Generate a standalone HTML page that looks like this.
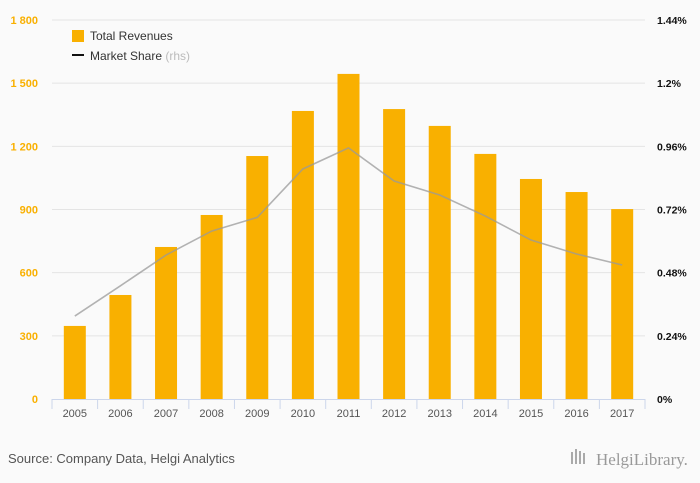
<!DOCTYPE html>
<html><head><meta charset="utf-8"><style>
html,body{margin:0;padding:0;background:#fafafa;}
svg{display:block;font-family:"Liberation Sans",sans-serif;}
</style></head><body>
<svg id="chart" width="700" height="483">
<rect width="700" height="483" fill="#fafafa"/>
<g id="grid"></g><g id="bars"></g><g id="line"></g><g id="axes"></g>
<g>
<rect x="72" y="30" width="12" height="12" fill="#f9b000"/>
<text x="90" y="40" font-size="12" fill="#333">Total Revenues</text>
<rect x="72" y="54" width="12" height="2" fill="#111"/>
<text x="90" y="60" font-size="12" fill="#333">Market Share <tspan fill="#bbb">(rhs)</tspan></text>
</g>
<text x="8" y="463" font-size="13" fill="#555">Source: Company Data, Helgi Analytics</text>
<g>
<rect x="571" y="452" width="2" height="12" fill="#aaa"/><rect x="575" y="449" width="2" height="15" fill="#aaa"/><rect x="579" y="451" width="2" height="13" fill="#aaa"/><rect x="583" y="453" width="2" height="11" fill="#aaa"/>
<text x="596" y="465" font-size="17" fill="#999" font-family="Liberation Serif,serif">HelgiLibrary.</text>
</g>
</svg>
<script>
const categories=["2005","2006","2007","2008","2009","2010","2011","2012","2013","2014","2015","2016","2017"];
const revenues=[347,494,722,874,1154,1368,1544,1377,1297,1164,1045,983,902];
const marketShare=[0.315,0.43,0.547,0.638,0.69,0.874,0.954,0.828,0.775,0.695,0.604,0.551,0.509];
const leftTicks=[0,300,600,900,1200,1500,1800];
const leftTickLabels=["0","300","600","900","1 200","1 500","1 800"];
const rightTicks=[0,0.24,0.48,0.72,0.96,1.2,1.44];
const rightTickLabels=["0%","0.24%","0.48%","0.72%","0.96%","1.2%","1.44%"];
const NS="http://www.w3.org/2000/svg";
const X0=52,X1=645,Y0=399,Y1=20;
const step=(X1-X0)/categories.length;
const xC=i=>X0+step*(i+0.5);
const yL=v=>Y0-(v/1800)*(Y0-Y1);
const yR=v=>Y0-(v/1.44)*(Y0-Y1);
function mk(tag,attrs,parent){const e=document.createElementNS(NS,tag);for(const k in attrs)e.setAttribute(k,attrs[k]);parent.appendChild(e);return e;}
const grid=document.getElementById('grid'),bars=document.getElementById('bars'),line=document.getElementById('line'),axes=document.getElementById('axes');
leftTicks.forEach((t,i)=>{
  const y=yL(t);
  if(i>0){const g=mk('line',{x1:X0,x2:X1,y1:y,y2:y,stroke:'#e4e4e4','stroke-width':1},grid);
  
  }
  const tx=mk('text',{x:38,y:y+4,'font-size':11,fill:'#f9b000','text-anchor':'end','font-weight':'bold'},axes);tx.textContent=leftTickLabels[i];
  
  
});
rightTicks.forEach((t,i)=>{
  const tx=mk('text',{x:657,y:yR(t)+4,'font-size':10.5,fill:'#111','font-weight':'bold'},axes);tx.textContent=rightTickLabels[i];
  
  
});
const ax=mk('line',{x1:X0,x2:X1,y1:Y0+0.5,y2:Y0+0.5,stroke:'#ccd6eb'},axes);


for(let i=0;i<=categories.length;i++){
  const x=X0+step*i;
  const tk=mk('line',{x1:x,x2:x,y1:Y0,y2:Y0+10,stroke:'#ccd6eb'},axes);
  
  
}
categories.forEach((c,i)=>{
  const b=mk('rect',{x:xC(i)-11,y:yL(revenues[i]),width:22,height:Y0-yL(revenues[i]),fill:'#f9b000'},bars);
  
  
  const tx=mk('text',{x:xC(i),y:417,'font-size':11,fill:'#555','text-anchor':'middle'},axes);tx.textContent=c;
  
  
});
const pts=marketShare.map((v,i)=>xC(i)+','+yR(v)).join(' ');
const pl=mk('polyline',{points:pts,fill:'none',stroke:'#999','stroke-opacity':0.75,'stroke-width':1.6},line);


</script>
</body></html>
